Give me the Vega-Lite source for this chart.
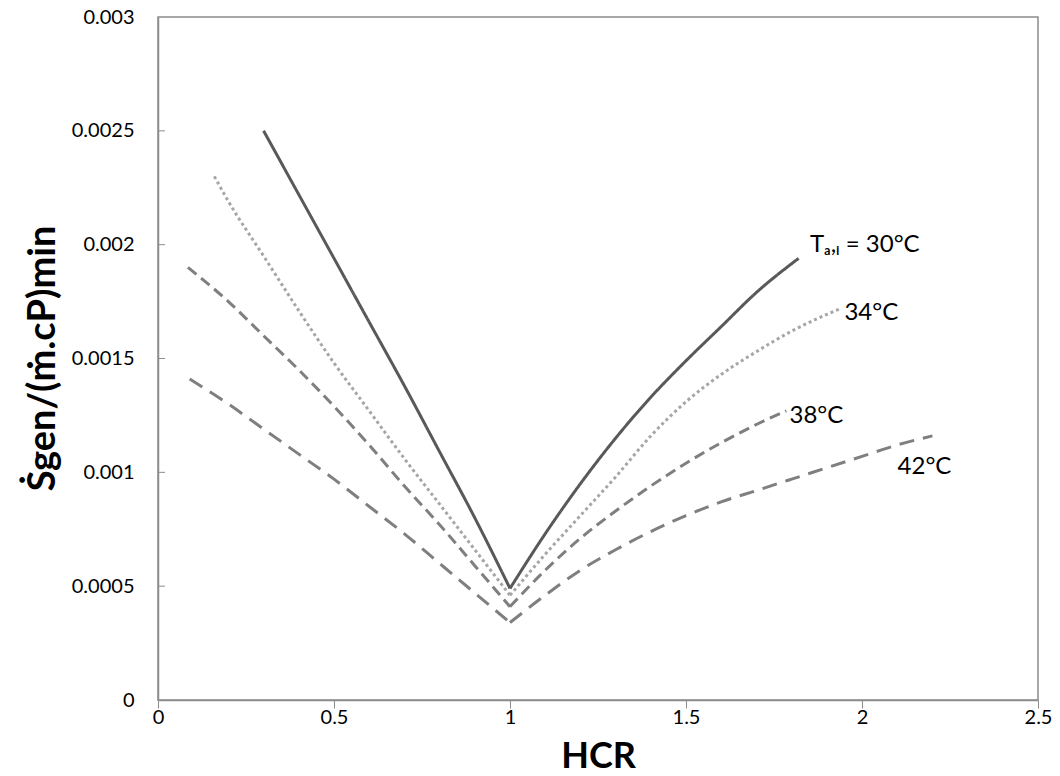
{
  "$schema": "https://vega.github.io/schema/vega-lite/v6.json",
  "width": 880,
  "height": 683,
  "autosize": {"type": "none"},
  "padding": {"left": 158, "top": 17, "right": 22, "bottom": 76},
  "background": "white",
  "config": {
    "view": {"stroke": "#8c8c8c", "strokeWidth": 1.5},
    "font": "Lato",
    "axis": {"grid": false, "domainColor": "#8c8c8c", "domainWidth": 1.5, "tickColor": "#8c8c8c", "tickWidth": 1, "labelColor": "#000000", "labelFont": "Lato", "labelFontSize": 20, "titleColor": "#000000", "titleFont": "Lato", "titleFontWeight": "bold"}
  },
  "datasets": {
    "curves": [
      {"series": "30", "branch": "L", "x": 0.3, "y": 0.0025},
      {"series": "30", "branch": "L", "x": 0.4, "y": 0.00222},
      {"series": "30", "branch": "L", "x": 0.5, "y": 0.00194},
      {"series": "30", "branch": "L", "x": 0.6, "y": 0.00166},
      {"series": "30", "branch": "L", "x": 0.7, "y": 0.00138},
      {"series": "30", "branch": "L", "x": 0.8, "y": 0.00109},
      {"series": "30", "branch": "L", "x": 0.9, "y": 0.0008},
      {"series": "30", "branch": "L", "x": 1.0, "y": 0.00049},
      {"series": "30", "branch": "R", "x": 1.0, "y": 0.00049},
      {"series": "30", "branch": "R", "x": 1.1, "y": 0.00073},
      {"series": "30", "branch": "R", "x": 1.2, "y": 0.00095},
      {"series": "30", "branch": "R", "x": 1.3, "y": 0.00115},
      {"series": "30", "branch": "R", "x": 1.4, "y": 0.00133},
      {"series": "30", "branch": "R", "x": 1.5, "y": 0.00149},
      {"series": "30", "branch": "R", "x": 1.6, "y": 0.00164},
      {"series": "30", "branch": "R", "x": 1.7, "y": 0.00179},
      {"series": "30", "branch": "R", "x": 1.82, "y": 0.00194},
      {"series": "34", "branch": "L", "x": 0.16, "y": 0.0023},
      {"series": "34", "branch": "L", "x": 0.2, "y": 0.00219},
      {"series": "34", "branch": "L", "x": 0.3, "y": 0.00195},
      {"series": "34", "branch": "L", "x": 0.4, "y": 0.00171},
      {"series": "34", "branch": "L", "x": 0.5, "y": 0.00148},
      {"series": "34", "branch": "L", "x": 0.6, "y": 0.00127},
      {"series": "34", "branch": "L", "x": 0.7, "y": 0.00106},
      {"series": "34", "branch": "L", "x": 0.8, "y": 0.00086},
      {"series": "34", "branch": "L", "x": 0.9, "y": 0.00066},
      {"series": "34", "branch": "L", "x": 1.0, "y": 0.00046},
      {"series": "34", "branch": "R", "x": 1.0, "y": 0.00046},
      {"series": "34", "branch": "R", "x": 1.1, "y": 0.00064},
      {"series": "34", "branch": "R", "x": 1.2, "y": 0.00081},
      {"series": "34", "branch": "R", "x": 1.3, "y": 0.00098},
      {"series": "34", "branch": "R", "x": 1.4, "y": 0.00116},
      {"series": "34", "branch": "R", "x": 1.5, "y": 0.00131},
      {"series": "34", "branch": "R", "x": 1.6, "y": 0.00143},
      {"series": "34", "branch": "R", "x": 1.7, "y": 0.00153},
      {"series": "34", "branch": "R", "x": 1.8, "y": 0.00162},
      {"series": "34", "branch": "R", "x": 1.94, "y": 0.00172},
      {"series": "38", "branch": "L", "x": 0.085, "y": 0.0019},
      {"series": "38", "branch": "L", "x": 0.2, "y": 0.00175},
      {"series": "38", "branch": "L", "x": 0.3, "y": 0.0016},
      {"series": "38", "branch": "L", "x": 0.4, "y": 0.00145},
      {"series": "38", "branch": "L", "x": 0.5, "y": 0.00129},
      {"series": "38", "branch": "L", "x": 0.6, "y": 0.00112},
      {"series": "38", "branch": "L", "x": 0.7, "y": 0.00094},
      {"series": "38", "branch": "L", "x": 0.8, "y": 0.00077},
      {"series": "38", "branch": "L", "x": 0.9, "y": 0.00059},
      {"series": "38", "branch": "L", "x": 1.0, "y": 0.00041},
      {"series": "38", "branch": "R", "x": 1.0, "y": 0.00041},
      {"series": "38", "branch": "R", "x": 1.1, "y": 0.00057},
      {"series": "38", "branch": "R", "x": 1.2, "y": 0.00071},
      {"series": "38", "branch": "R", "x": 1.3, "y": 0.00083},
      {"series": "38", "branch": "R", "x": 1.4, "y": 0.00094},
      {"series": "38", "branch": "R", "x": 1.5, "y": 0.00104},
      {"series": "38", "branch": "R", "x": 1.6, "y": 0.00113},
      {"series": "38", "branch": "R", "x": 1.7, "y": 0.00121},
      {"series": "38", "branch": "R", "x": 1.785, "y": 0.00127},
      {"series": "42", "branch": "L", "x": 0.09, "y": 0.00141},
      {"series": "42", "branch": "L", "x": 0.2, "y": 0.0013},
      {"series": "42", "branch": "L", "x": 0.3, "y": 0.00119},
      {"series": "42", "branch": "L", "x": 0.4, "y": 0.00108},
      {"series": "42", "branch": "L", "x": 0.5, "y": 0.00097},
      {"series": "42", "branch": "L", "x": 0.6, "y": 0.00085},
      {"series": "42", "branch": "L", "x": 0.7, "y": 0.00073},
      {"series": "42", "branch": "L", "x": 0.8, "y": 0.0006},
      {"series": "42", "branch": "L", "x": 0.9, "y": 0.00047},
      {"series": "42", "branch": "L", "x": 1.0, "y": 0.00034},
      {"series": "42", "branch": "R", "x": 1.0, "y": 0.00034},
      {"series": "42", "branch": "R", "x": 1.1, "y": 0.00046},
      {"series": "42", "branch": "R", "x": 1.2, "y": 0.00057},
      {"series": "42", "branch": "R", "x": 1.3, "y": 0.00066},
      {"series": "42", "branch": "R", "x": 1.4, "y": 0.00074},
      {"series": "42", "branch": "R", "x": 1.5, "y": 0.00081},
      {"series": "42", "branch": "R", "x": 1.6, "y": 0.00087},
      {"series": "42", "branch": "R", "x": 1.7, "y": 0.00092},
      {"series": "42", "branch": "R", "x": 1.8, "y": 0.00097},
      {"series": "42", "branch": "R", "x": 1.9, "y": 0.00102},
      {"series": "42", "branch": "R", "x": 2.0, "y": 0.00107},
      {"series": "42", "branch": "R", "x": 2.1, "y": 0.00112},
      {"series": "42", "branch": "R", "x": 2.2, "y": 0.00116}
    ],
    "labels": [
      {"x": 1.852, "y": 0.002, "label": "Tₐ,ᵢ = 30°C"},
      {"x": 1.95, "y": 0.0017, "label": "34°C"},
      {"x": 1.794, "y": 0.001246, "label": "38°C"},
      {"x": 2.101, "y": 0.001022, "label": "42°C"}
    ],
    "yticks": [
      {"t": 0.0005}, {"t": 0.001}, {"t": 0.0015}, {"t": 0.002}, {"t": 0.0025}
    ]
  },
  "layer": [
    {
      "data": {"name": "curves"},
      "mark": {"type": "line", "strokeWidth": 3, "strokeCap": "butt", "interpolate": "monotone"},
      "encoding": {
        "x": {"field": "x", "type": "quantitative", "scale": {"domain": [0, 2.5], "nice": false},
          "axis": {"values": [0, 0.5, 1, 1.5, 2, 2.5], "format": "~g", "tickSize": 8, "labelPadding": -1, "labelFlush": false, "title": "HCR", "titleFontSize": 36, "titleBaseline": "alphabetic", "titleY": 67}},
        "y": {"field": "y", "type": "quantitative", "scale": {"domain": [0, 0.003], "nice": false},
          "axis": {"values": [0, 0.0005, 0.001, 0.0015, 0.002, 0.0025, 0.003], "format": "~g", "ticks": false, "labelPadding": 24, "labelFlush": false, "title": "Ṡgen/(ṁ.cP)min", "titleFontSize": 38, "titleX": -96, "titleY": 341, "titleAngle": -90, "titleBaseline": "bottom", "titleAlign": "center"}},
        "color": {"field": "series", "type": "nominal", "legend": null,
          "scale": {"domain": ["30", "34", "38", "42"], "range": ["#595959", "#a6a6a6", "#7f7f7f", "#7f7f7f"]}},
        "strokeDash": {"field": "series", "type": "nominal", "legend": null,
          "scale": {"domain": ["30", "34", "38", "42"], "range": [[1, 0], [3, 3], [11, 6], [15, 9]]}},
        "detail": {"field": "branch", "type": "nominal"}
      }
    },
    {
      "data": {"name": "yticks"},
      "mark": {"type": "rule", "color": "#8c8c8c", "strokeWidth": 1, "x2Offset": 7},
      "encoding": {
        "x": {"datum": 0, "type": "quantitative"},
        "x2": {"datum": 0},
        "y": {"field": "t", "type": "quantitative"}
      }
    },
    {
      "data": {"name": "labels"},
      "mark": {"type": "text", "align": "left", "baseline": "middle", "fontSize": 24, "font": "Lato", "color": "#000000"},
      "encoding": {
        "x": {"field": "x", "type": "quantitative"},
        "y": {"field": "y", "type": "quantitative"},
        "text": {"field": "label"}
      }
    }
  ]
}
